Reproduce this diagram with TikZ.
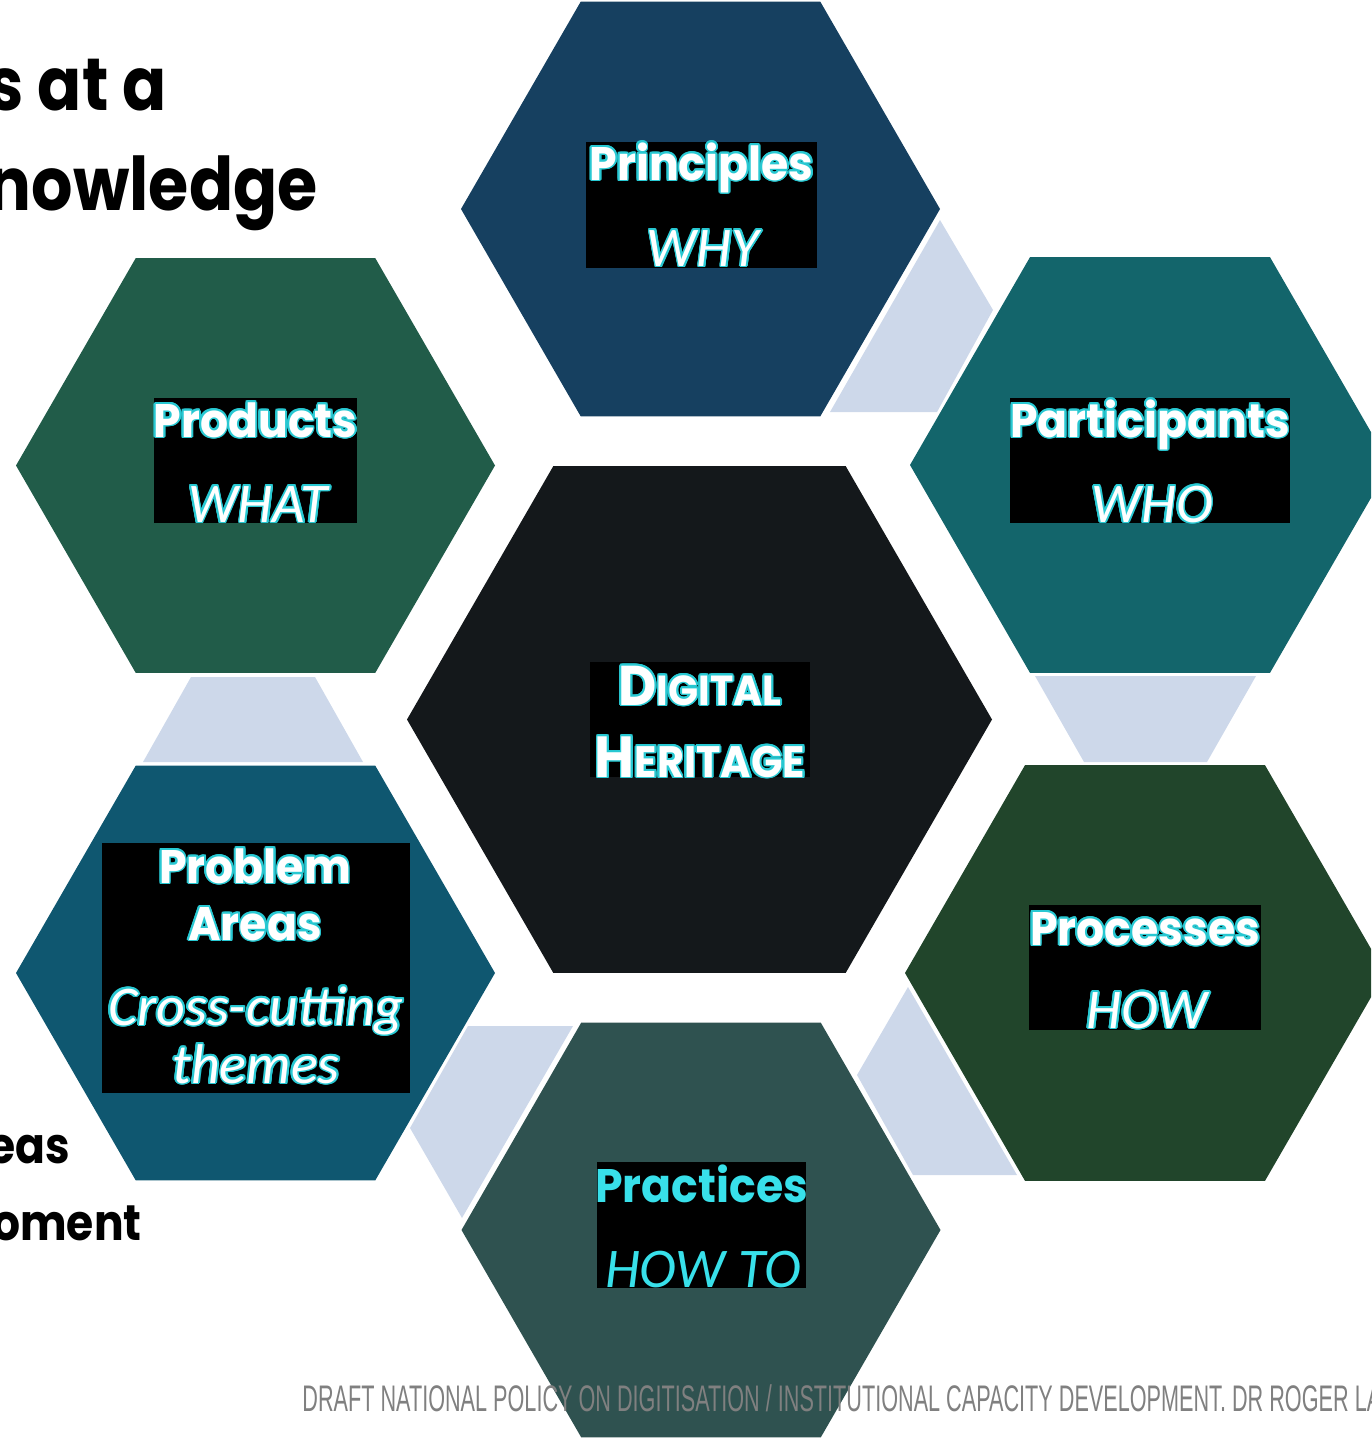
\documentclass[tikz,border=0pt]{standalone}
\usepackage{fontspec}
\usepackage[copies]{contour}
\setmainfont{Poppins}
\newfontfamily\headfont[FakeStretch=0.94]{Poppins}
\newfontfamily\titlefont[FakeStretch=0.88]{Poppins}
\newfontfamily\subfont{Carlito}
\newfontfamily\footfont[FakeStretch=0.585]{Liberation Sans}

\definecolor{prinblue}{RGB}{22,64,96}
\definecolor{partteal}{RGB}{19,101,107}
\definecolor{prodgreen}{RGB}{33,92,73}
\definecolor{coreblack}{RGB}{20,24,27}
\definecolor{procgreen}{RGB}{33,69,43}
\definecolor{probblue}{RGB}{15,87,112}
\definecolor{practgray}{RGB}{47,82,80}
\definecolor{linkblue}{RGB}{205,216,234}
\definecolor{glowcyan}{RGB}{40,200,210}
\definecolor{practcyan}{RGB}{56,224,234}
\definecolor{footgray}{RGB}{128,128,128}

\contourlength{0.9pt}
\newcommand{\glowtext}[1]{\contour{glowcyan}{#1}}

\tikzset{
  labelbox/.style={fill=black, inner sep=0pt},
  headtext/.style={font=\headfont\bfseries\fontsize{23.5}{28}\selectfont, text=white, anchor=base, inner sep=0pt},
  subtext/.style={font=\subfont\itshape\fontsize{28}{32}\selectfont, text=white, anchor=base, inner sep=0pt},
  titletext/.style={font=\titlefont\bfseries\fontsize{37}{40}\selectfont, anchor=base east, inner sep=0pt},
  sidetext/.style={font=\titlefont\bfseries\fontsize{25}{30}\selectfont, anchor=base east, inner sep=0pt},
  foottext/.style={font=\footfont\fontsize{18.5}{20}\selectfont, text=footgray, anchor=base west, inner sep=0pt}
}

\begin{document}
\begin{tikzpicture}[x=0.5pt, y=-0.5pt]

\useasboundingbox (0,0) rectangle (1371,1440);
\clip (0,0) rectangle (1371,1440);

% light connectors between the outer cells
\fill[linkblue] (940,220) -- (993,310) -- (937,412) -- (830,412) -- cycle;
\fill[linkblue] (1035,676) -- (1256,676) -- (1207,762) -- (1084,762) -- cycle;
\fill[linkblue] (908,987) -- (1017,1175) -- (913,1175) -- (857,1075) -- cycle;
\fill[linkblue] (468,1026) -- (573,1026) -- (462,1218) -- (410,1128) -- cycle;
\fill[linkblue] (191,677) -- (315,677) -- (363,762) -- (143,762) -- cycle;

% hexagon cells
\foreach \cx/\cy/\r/\col in {700.5/209/239.5/prinblue, 1150/465/240/partteal,
    1145/973/240/procgreen, 701/1230/239.5/practgray, 255.5/973/239.5/probblue,
    255.5/465.5/239.5/prodgreen, 699.5/719.5/292.5/coreblack}
  \fill[\col] (\cx,\cy) +(0:\r) -- +(60:\r) -- +(120:\r) -- +(180:\r)
    -- +(240:\r) -- +(300:\r) -- cycle;

% labels
\node[labelbox, minimum width=115.5pt, minimum height=63pt] (principles) at (701.5,204.5) {};
\node[headtext] (principles-head) at (701.5,180) {\glowtext{Principles}};
\node[subtext] (principles-sub) at (703,266) {\glowtext{WHY}};

\node[labelbox, minimum width=140pt, minimum height=62.5pt] (participants) at (1150,460.5) {};
\node[headtext] (participants-head) at (1150,437) {\glowtext{Participants}};
\node[subtext] (participants-sub) at (1152,522) {\glowtext{WHO}};

\node[labelbox, minimum width=101.5pt, minimum height=62.5pt] (products) at (255.5,460.5) {};
\node[headtext] (products-head) at (255.5,437) {\glowtext{Products}};
\node[subtext] (products-sub) at (258,522) {\glowtext{WHAT}};

\node[labelbox, minimum width=110pt, minimum height=57.5pt] (heritage) at (700,719.5) {};
\node[headtext, font=\headfont\bfseries\fontsize{28}{30}\selectfont] (heritage-top) at (700,705)
  {\glowtext{D{\fontsize{21}{24}\selectfont IGITAL}}};
\node[headtext, font=\headfont\bfseries\fontsize{29}{30}\selectfont] (heritage-bottom) at (700,777)
  {\glowtext{H{\fontsize{22}{24}\selectfont ERITAGE}}};

\node[labelbox, minimum width=154pt, minimum height=125pt] (problems) at (256,968) {};
\node[headtext] (problems-head1) at (255,883) {\glowtext{Problem}};
\node[headtext] (problems-head2) at (255,940) {\glowtext{Areas}};
\node[subtext] (problems-sub1) at (256,1025) {\glowtext{Cross-cutting}};
\node[subtext] (problems-sub2) at (256,1083) {\glowtext{themes}};

\node[labelbox, minimum width=116pt, minimum height=62.5pt] (processes) at (1145,967.5) {};
\node[headtext] (processes-head) at (1145,945) {\glowtext{Processes}};
\node[subtext] (processes-sub) at (1147,1028) {\glowtext{HOW}};

\node[labelbox, minimum width=104.5pt, minimum height=63pt] (practices) at (701.5,1225) {};
\node[headtext, text=practcyan] (practices-head) at (701.5,1202) {Practices};
\node[subtext, text=practcyan] (practices-sub) at (703,1287) {HOW TO};

% slide title, cut at the left edge
\node[titletext] (title-a) at (167,110) {s at a};
\node[titletext] (title-b) at (318,210) {nowledge};
\node[sidetext] (side-a) at (70,1163) {eas};
\node[sidetext] (side-b) at (142,1240) {oment};

% footer
\node[foottext] (footer) at (302,1411)
  {DRAFT NATIONAL POLICY ON DIGITISATION / INSTITUTIONAL CAPACITY DEVELOPMENT. DR ROGER LA};

\end{tikzpicture}
\end{document}
